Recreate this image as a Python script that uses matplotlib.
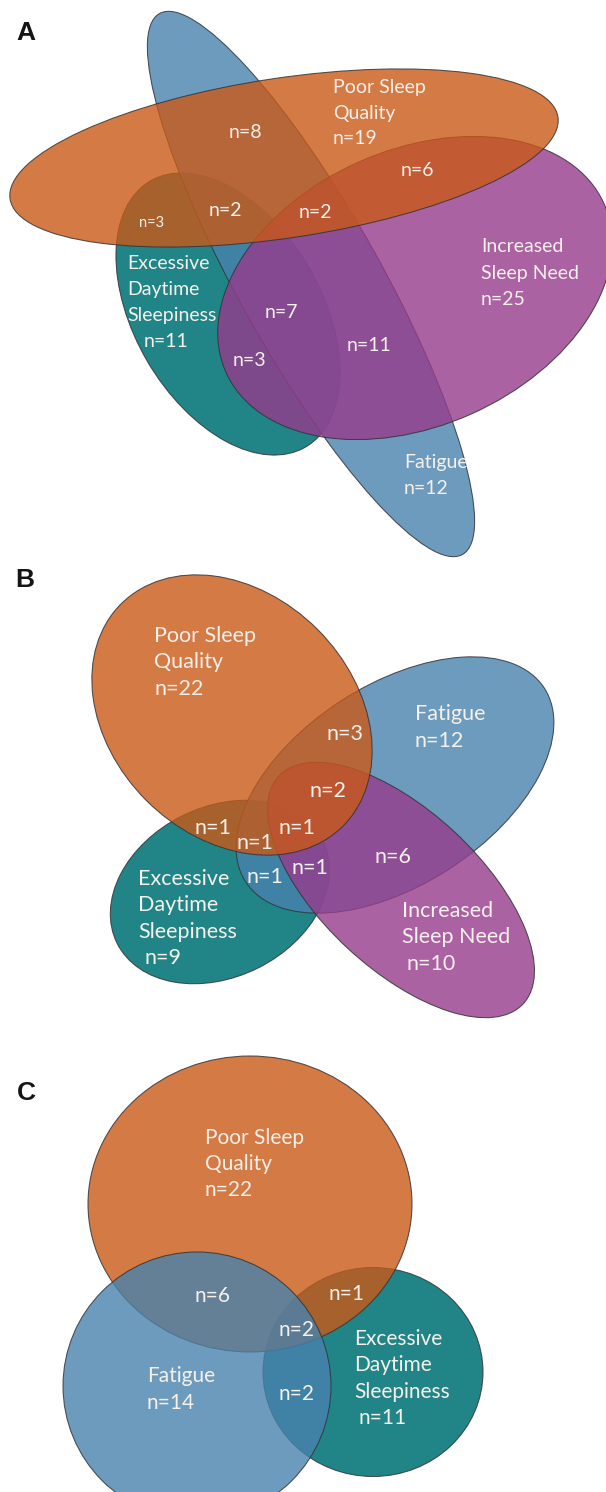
import matplotlib
matplotlib.use('Agg')
import matplotlib.pyplot as plt
from matplotlib.patches import Ellipse

# ---- data ----
eds = 'Excessive\nDaytime\nSleepiness'
fat = 'Fatigue'
isn = 'Increased\nSleep Need'
psq = 'Poor Sleep\nQuality'

a_sets = [eds, fat, isn, psq]
a_totals = [11, 12, 25, 19]
a_overlaps = [8, 6, 3, 2, 2, 7, 3, 11]

b_sets = [eds, fat, isn, psq]
b_totals = [9, 12, 10, 22]
b_overlaps = [3, 2, 1, 1, 1, 1, 1, 6]

c_sets = [eds, psq, fat]
c_totals = [11, 22, 14]
c_overlaps = [6, 1, 2, 2]

colors = {
    eds: (0.13, 0.52, 0.53, 1.0),
    fat: (0.28, 0.51, 0.68, 0.8),
    isn: (0.59, 0.23, 0.55, 0.8),
    psq: (0.79, 0.35, 0.09, 0.8),
}

# ---- layout (pixels, y down): ellipse cx, cy, width, height, angle ----
a_shapes = {
    eds: (228, 314, 308, 187, 59.7),
    fat: (311, 284, 620, 142, 60.75),
    isn: (415, 288, 414, 276, -24),
    psq: (284, 158, 554, 160, -8.5),
}
b_shapes = {
    eds: (220, 892, 230, 170, -26.5),
    fat: (395, 785, 356, 200, -33),
    isn: (401, 890, 334, 158, 43),
    psq: (232, 715, 314, 242, 45),
}
c_shapes = {
    eds: (373, 1372, 220, 209, 0),
    psq: (250, 1204, 324, 296, 0),
    fat: (197, 1386, 268, 268, 0),
}

# set label: x, y of first line centre, extra x shift of the n= line, line step
a_labels = {
    eds: (127, 263, 17, 26), fat: (404, 462, 0, 26),
    isn: (481, 246, 0, 26.5), psq: (333, 87, 0, 25.5),
}
b_labels = {
    eds: (138, 878, 6, 26.5), fat: (415, 713, 0, 27),
    isn: (402, 910, 5, 26.5), psq: (154, 635, 0, 26.5),
}
c_labels = {
    eds: (354, 1338, 4, 26.5), psq: (205, 1137, 0, 26),
    fat: (147, 1375, 0, 27),
}
a_overlap_pos = [(245, 132), (417, 170), (152, 222), (225, 210), (315, 212),
                 (281, 312), (249, 360), (369, 345)]
b_overlap_pos = [(345, 733), (328, 790), (213, 827), (297, 827), (255, 842),
                 (265, 876), (310, 867), (393, 856)]
c_overlap_pos = [(212, 1295), (347, 1293), (297, 1329), (297, 1393)]

txt_color = '#f6f0ea'
font = ['Lato', 'DejaVu Sans']

fig = plt.figure(figsize=(6.06, 14.92), dpi=100)
ax = fig.add_axes([0, 0, 1, 1])
ax.set_xlim(0, 606)
ax.set_ylim(1492, 0)
ax.axis('off')


def draw_panel(sets, shapes, z0):
    for i, s in enumerate(sets):
        cx, cy, w, h, ang = shapes[s]
        ax.add_patch(Ellipse((cx, cy), w, h, angle=ang, facecolor=colors[s],
                             edgecolor=(0.2, 0.2, 0.22, 0.85), lw=0.75,
                             zorder=z0 + i))


def put_lines(lines, x, y, step, size, nshift=0):
    for k, line in enumerate(lines):
        dx = nshift if line.startswith('n=') else 0
        ax.text(x + dx, y + k * step + size * 0.45, line, ha='left',
                va='baseline', fontsize=size, color=txt_color,
                family=font, zorder=20)


def label_panel(sets, totals, labels, overlaps, opos, size, small=None):
    for s, t in zip(sets, totals):
        x, y, nshift, step = labels[s]
        put_lines(s.split('\n') + ['n=%d' % t], x, y, step, size, nshift)
    for j, (v, (x, y)) in enumerate(zip(overlaps, opos)):
        fs = small if (small and j == 2) else size
        ax.text(x, y + fs * 0.45, 'n=%d' % v, ha='center', va='baseline',
                fontsize=fs, color=txt_color, family=font, zorder=20)


draw_panel(a_sets, a_shapes, 1)
label_panel(a_sets, a_totals, a_labels, a_overlaps, a_overlap_pos, 14, small=10.5)

draw_panel(b_sets, b_shapes, 1)
label_panel(b_sets, b_totals, b_labels, b_overlaps, b_overlap_pos, 15.5)

draw_panel(c_sets, c_shapes, 1)
label_panel(c_sets, c_totals, c_labels, c_overlaps, c_overlap_pos, 15)

for letter, (x, y) in zip(['A', 'B', 'C'], [(26, 33), (25, 580), (26, 1093)]):
    ax.text(x, y, letter, ha='center', va='center', fontsize=19,
            fontweight='bold', family=['Liberation Sans', 'DejaVu Sans'],
            color='#151515')

fig.savefig('out.png', dpi=100)
